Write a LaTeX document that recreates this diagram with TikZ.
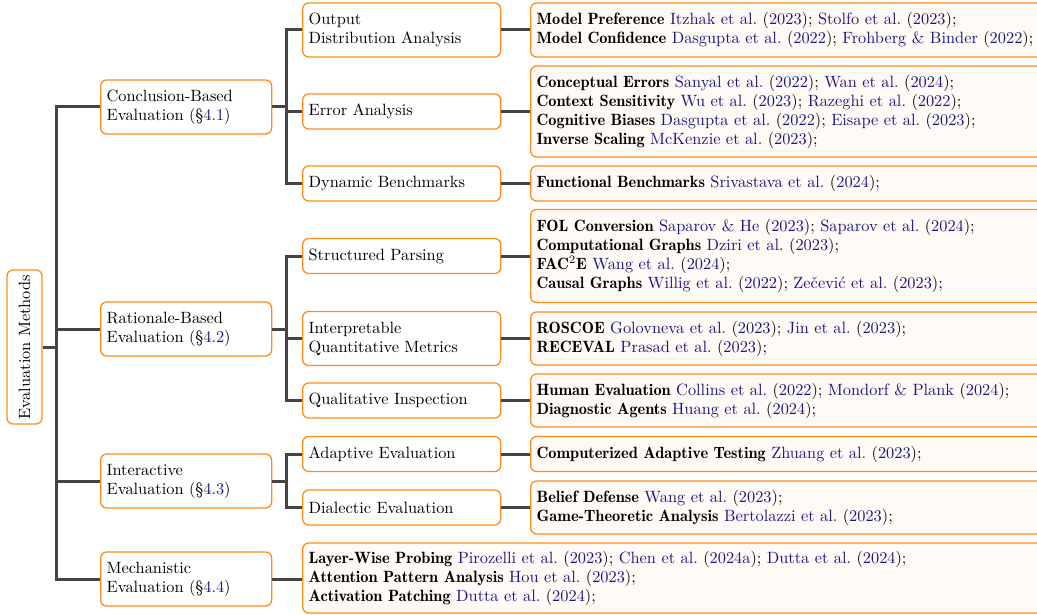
\documentclass[tikz,border=0pt]{standalone}
\usepackage{tikz}

\definecolor{boxline}{RGB}{255,140,26}
\definecolor{leaffill}{RGB}{255,250,245}
\definecolor{linkgray}{RGB}{68,68,68}
\definecolor{citeblue}{RGB}{25,25,125}

\newlength{\px}
\setlength{\px}{0.624pt}
\newcommand{\mycite}[2]{\textcolor{citeblue}{#1} (\textcolor{citeblue}{#2})}
\newcommand{\secnum}[1]{(\S\textcolor{citeblue}{#1})}
\newcommand{\term}[1]{{\fontseries{b}\selectfont #1}}

\tikzset{
    box/.style ={
        rectangle,
        rounded corners =6\px,
        draw=boxline,
        line width=0.8pt,
        fill=white,
        inner xsep=6\px,
        inner ysep=2pt,
        align=left,
        font=\fontsize{10.2}{11.85}\selectfont\frenchspacing
    },
    rootbox/.style ={box, rotate=90, align=center, inner xsep=2pt,
        minimum width=154\px, minimum height=35\px},
    catbox/.style ={box, anchor=west, text width=159\px, minimum height=54\px},
    methbox/.style ={box, anchor=west, text width=186\px, minimum height=35\px},
    leafbox/.style ={box, anchor=west, fill=leaffill, text width=518\px, minimum height=35\px},
    link/.style ={draw=linkgray, line width=3\px}
}

\begin{document}
\begin{tikzpicture}[x=0.624pt, y=-0.624pt]
        \useasboundingbox (0,0) rectangle (1037,615);
        \clip (0,0) rectangle (1037,615);

        \node[rootbox] (EVAL) at (24.5,347) {Evaluation Methods};

        \node[catbox] (CONC) at (100,107) {Conclusion-Based\\Evaluation \secnum{4.1}};
        \node[catbox] (RAT) at (100,329) {Rationale-Based\\Evaluation \secnum{4.2}};
        \node[catbox] (INTER) at (100,481) {Interactive\\Evaluation \secnum{4.3}};
        \node[catbox] (MECH) at (100,579) {Mechanistic\\Evaluation \secnum{4.4}};

        \node[methbox, minimum height=54\px] (OUTDIST) at (302,30) {Output\\Distribution Analysis};
        \node[methbox] (ERR) at (302,111.5) {Error Analysis};
        \node[methbox] (DYN) at (302,183.5) {Dynamic Benchmarks};
        \node[methbox] (PARSE) at (302,256) {Structured Parsing};
        \node[methbox, minimum height=54\px] (METRIC) at (302,338.5) {Interpretable\\Quantitative Metrics};
        \node[methbox] (QUAL) at (302,400.5) {Qualitative Inspection};
        \node[methbox] (ADAPT) at (302,454) {Adaptive Evaluation};
        \node[methbox] (DIAL) at (302,507.5) {Dialectic Evaluation};

        \node[leafbox, minimum height=54\px] (PREF) at (530,30) {\term{Model Preference} \mycite{Itzhak et al.}{2023}; \mycite{Stolfo et al.}{2023};\\
            \term{Model Confidence} \mycite{Dasgupta et al.}{2022}; \mycite{Frohberg \& Binder}{2022};};
        \node[leafbox, minimum height=91\px] (ERRLIST) at (530,111.5) {\term{Conceptual Errors} \mycite{Sanyal et al.}{2022}; \mycite{Wan et al.}{2024};\\
            \term{Context Sensitivity} \mycite{Wu et al.}{2023}; \mycite{Razeghi et al.}{2022};\\
            \term{Cognitive Biases} \mycite{Dasgupta et al.}{2022}; \mycite{Eisape et al.}{2023};\\
            \term{Inverse Scaling} \mycite{McKenzie et al.}{2023};};
        \node[leafbox] (FUNC) at (530,183.5) {\term{Functional Benchmarks} \mycite{Srivastava et al.}{2024};};
        \node[leafbox, minimum height=93\px] (PARSELIST) at (530,256) {\term{FOL Conversion} \mycite{Saparov \& He}{2023}; \mycite{Saparov et al.}{2024};\\
            \term{Computational Graphs} \mycite{Dziri et al.}{2023};\\
            \term{FAC\textsuperscript{\mdseries 2}E} \mycite{Wang et al.}{2024};\\
            \term{Causal Graphs} \mycite{Willig et al.}{2022}; \mycite{Zečević et al.}{2023};};
        \node[leafbox, minimum height=53\px] (METRICLIST) at (530,338.5) {\term{ROSCOE} \mycite{Golovneva et al.}{2023}; \mycite{Jin et al.}{2023};\\
            \term{RECEVAL} \mycite{Prasad et al.}{2023};};
        \node[leafbox, minimum height=53\px] (QUALLIST) at (530,400.5) {\term{Human Evaluation} \mycite{Collins et al.}{2022}; \mycite{Mondorf \& Plank}{2024};\\
            \term{Diagnostic Agents} \mycite{Huang et al.}{2024};};
        \node[leafbox] (ADAPTLIST) at (530,454) {\term{Computerized Adaptive Testing} \mycite{Zhuang et al.}{2023};};
        \node[leafbox, minimum height=53\px] (DIALLIST) at (530,507.5) {\term{Belief Defense} \mycite{Wang et al.}{2023};\\
            \term{Game-Theoretic Analysis} \mycite{Bertolazzi et al.}{2023};};
        \node[leafbox, text width=746\px, minimum height=70\px] (MECHLIST) at (302,578) {\term{Layer-Wise Probing} \mycite{Pirozelli et al.}{2023}; \mycite{Chen et al.}{2024a}; \mycite{Dutta et al.}{2024};\\
            \term{Attention Pattern Analysis} \mycite{Hou et al.}{2023};\\
            \term{Activation Patching} \mycite{Dutta et al.}{2024};};

        \draw[link] (EVAL.south) -- ++(14,0) |- (CONC.west);
        \draw[link] (EVAL.south) -- ++(14,0) |- (RAT.west);
        \draw[link] (EVAL.south) -- ++(14,0) |- (INTER.west);
        \draw[link] (EVAL.south) -- ++(14,0) |- (MECH.west);

        \draw[link] (CONC.east) -- ++(14,0) |- (OUTDIST.west);
        \draw[link] (CONC.east) -- ++(14,0) |- (ERR.west);
        \draw[link] (CONC.east) -- ++(14,0) |- (DYN.west);
        \draw[link] (RAT.east) -- ++(14,0) |- (PARSE.west);
        \draw[link] (RAT.east) -- ++(14,0) |- (METRIC.west);
        \draw[link] (RAT.east) -- ++(14,0) |- (QUAL.west);
        \draw[link] (INTER.east) -- ++(14,0) |- (ADAPT.west);
        \draw[link] (INTER.east) -- ++(14,0) |- (DIAL.west);

        \draw[link] (OUTDIST.east) -- (PREF.west);
        \draw[link] (ERR.east) -- (ERRLIST.west);
        \draw[link] (DYN.east) -- (FUNC.west);
        \draw[link] (PARSE.east) -- (PARSELIST.west);
        \draw[link] (METRIC.east) -- (METRICLIST.west);
        \draw[link] (QUAL.east) -- (QUALLIST.west);
        \draw[link] (ADAPT.east) -- (ADAPTLIST.west);
        \draw[link] (DIAL.east) -- (DIALLIST.west);
        \draw[link] (MECH.east) -- (MECH.east -| MECHLIST.west);
    \end{tikzpicture}
\end{document}
